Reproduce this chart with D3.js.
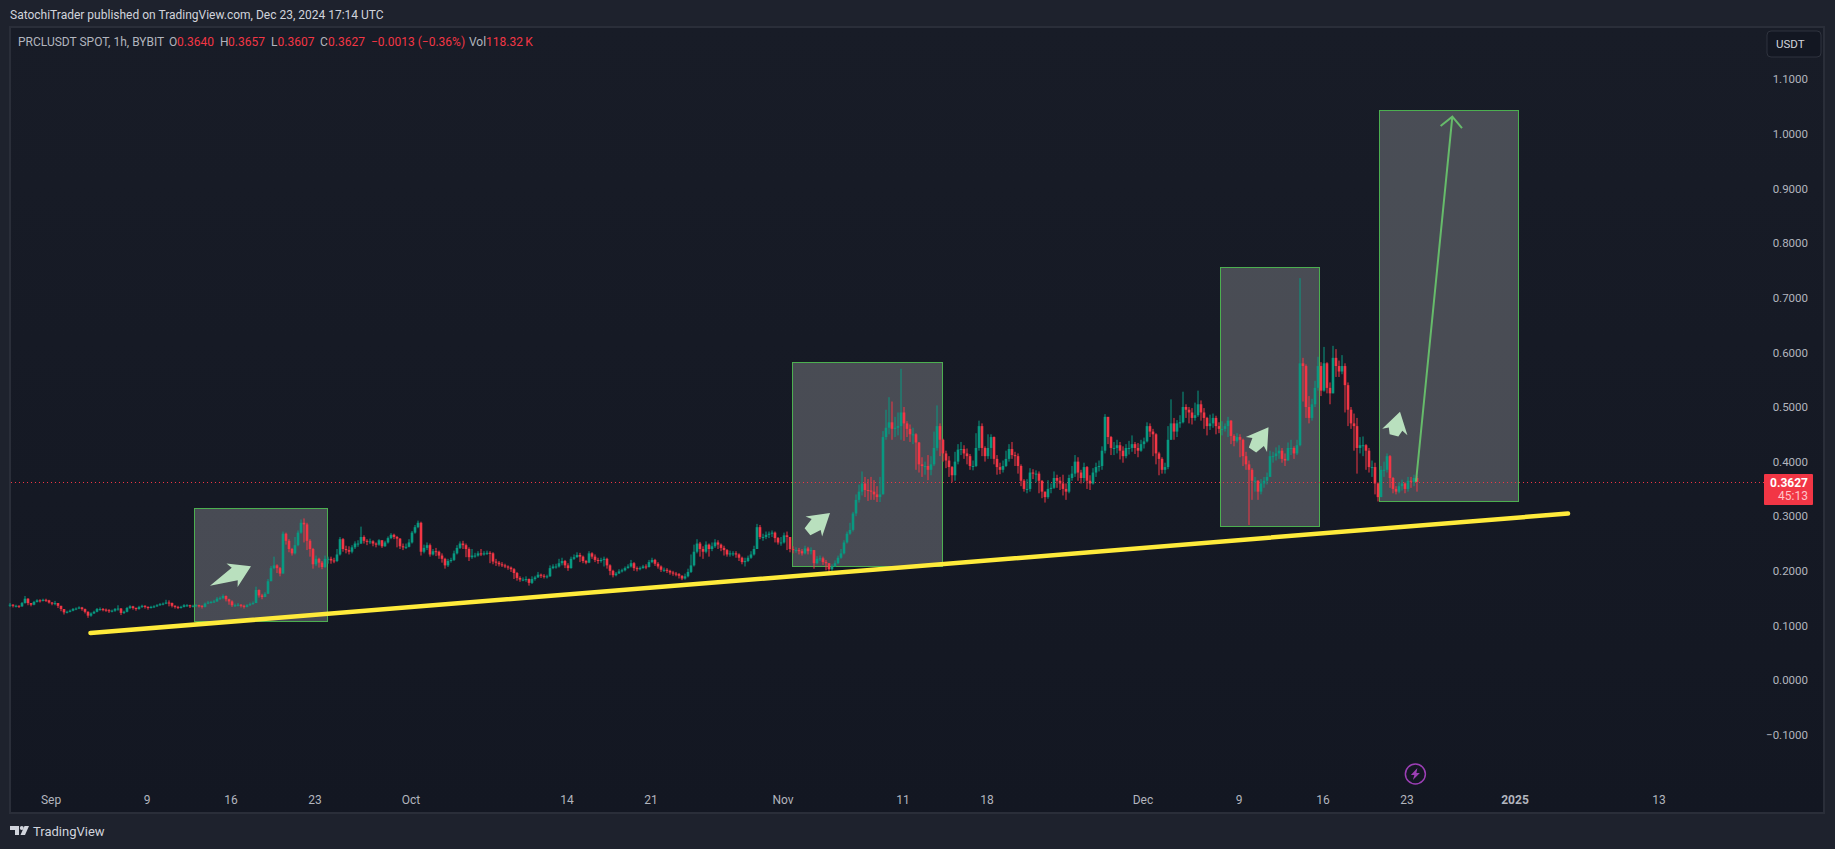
<!DOCTYPE html>
<html>
<head>
<meta charset="utf-8">
<script src="https://cdn.jsdelivr.net/npm/d3@7"></script>
<style>
  html, body { margin: 0; padding: 0; background: #1e222d; overflow: hidden; }
  text { font-family: Roboto, "Noto Sans", sans-serif; }
</style>
</head>
<body>
<div id="chart"></div>
<script>
// 6h bars, first bar 2024-08-28 15:00 UTC
var firstBar = "2024-08-28T15:00:00Z";
var barHours = 6;
var firstOpen = 0.138;

var closes = [
  // late aug - sep
  .138,.136,.136,.135,.141,.149,.141,.138,.143,.146,
  .145,.147,.146,.142,.140,.141,.136,.130,.124,.125,
  .127,.130,.131,.133,.130,.125,.118,.122,.125,.130,
  .130,.129,.128,.126,.127,.130,.131,.123,.125,.132,
  .135,.132,.130,.134,.136,.134,.132,.134,.135,.137,
  .139,.140,.142,.141,.136,.134,.133,.134,.137,.137,
  .135,.136,.137,.136,.134,.140,.142,.143,.144,.149,
  .150,.154,.148,.144,.137,.137,.138,.136,.134,.137,
  .139,.141,.165,.155,.152,.158,.181,.205,.210,.205,
  .195,.268,.255,.240,.232,.247,.270,.288,.285,.255,
  .240,.212,.222,.215,.207,.222,.222,.219,.218,.230,
  .258,.240,.238,.235,
  // oct
  .243,.250,.250,.262,.255,.253,.254,.250,.248,.256,
  .245,.252,.260,.266,.262,.259,.245,.243,.244,.252,
  .270,.280,.288,.235,.242,.247,.230,.236,.235,.228,
  .222,.210,.218,.220,.232,.242,.250,.247,.240,.225,
  .228,.228,.232,.230,.232,.233,.232,.217,.215,.212,
  .210,.208,.206,.203,.196,.187,.184,.184,.185,.178,
  .185,.188,.193,.191,.190,.190,.205,.208,.208,.214,
  .218,.210,.205,.222,.225,.229,.226,.218,.215,.232,
  .226,.220,.218,.220,.222,.210,.200,.192,.195,.199,
  .201,.205,.208,.214,.205,.203,.205,.208,.207,.216,
  .220,.213,.208,.202,.202,.200,.197,.195,.194,.191,
  .186,.190,.198,.210,.235,.250,.240,.235,.248,.240,
  .245,.252,.248,.242,.238,.230,.232,.232,.230,.224,
  .216,.218,.224,.230,.240,.280,.262,.262,.266,.268,
  .270,.260,.252,
  // nov
  .252,.265,.262,.240,.238,.238,.236,.232,.241,.236,
  .238,.214,.222,.223,.216,.214,.203,.208,.214,.224,
  .232,.252,.268,.275,.305,.330,.345,.360,.348,.347,
  .345,.340,.335,.340,.445,.462,.472,.460,.462,.465,
  .490,.470,.460,.450,.450,.435,.395,.392,.392,.385,
  .395,.425,.465,.440,.415,.402,.390,.375,.400,.422,
  .423,.415,.410,.392,.392,.425,.465,.425,.410,.425,
  .445,.405,.390,.385,.392,.405,.423,.412,.410,.392,
  .365,.350,.350,.380,.378,.378,.365,.345,.335,.350,
  .352,.370,.365,.360,.350,.345,.370,.378,.400,.380,
  .370,.390,.365,.360,.380,.390,.392,.420,.482,.445,
  .425,.425,.430,.420,.410,.425,.425,.432,.425,.420,
  .432,.437,.465,.455,.450,.415,.405,.385,.390,.440,
  .470,.455,.470,.472,.500,.495,.490,.480,.485,.505,
  .490,.480,.465,.470,.480,.465,.460,
  // dec
  .460,.465,.475,.447,.438,.445,.440,.410,.395,.385,
  .365,.365,.345,.360,.365,.372,.410,.410,.415,.420,
  .405,.402,.425,.425,.415,.430,.580,.575,.500,.480,
  .505,.535,.575,.530,.580,.535,.525,.590,.575,.565,
  .575,.540,.495,.470,.465,.425,.430,.430,.420,.390,
  .390,.360,.335,.385,.385,.410,.370,.350,.345,.355,
  .360,.350,.365,.363,.370,.3627
];

var highs = [
  .141,.139,.138,.137,.143,.154,.150,.141,.145,.148,
  .148,.149,.149,.147,.143,.145,.141,.136,.130,.127,
  .129,.132,.133,.135,.134,.131,.126,.124,.127,.132,
  .133,.132,.131,.130,.129,.132,.137,.132,.127,.134,
  .137,.136,.133,.136,.138,.137,.135,.136,.137,.139,
  .141,.142,.147,.146,.142,.137,.136,.136,.139,.139,
  .138,.138,.139,.138,.137,.142,.145,.145,.147,.152,
  .153,.157,.155,.149,.146,.140,.141,.139,.138,.139,
  .142,.144,.171,.166,.158,.161,.185,.209,.226,.212,
  .207,.272,.270,.258,.242,.262,.274,.294,.296,.288,
  .258,.242,.228,.224,.218,.228,.226,.226,.224,.240,
  .262,.260,.246,.245,
  .247,.254,.256,.281,.265,.258,.259,.256,.252,.258,
  .256,.255,.263,.269,.268,.264,.260,.250,.250,.258,
  .273,.284,.292,.290,.248,.252,.250,.240,.242,.237,
  .232,.224,.222,.224,.237,.247,.254,.255,.250,.243,
  .240,.233,.236,.240,.236,.237,.236,.234,.222,.218,
  .216,.213,.210,.208,.205,.198,.190,.188,.190,.186,
  .190,.191,.198,.195,.194,.193,.210,.212,.213,.222,
  .224,.220,.214,.226,.230,.234,.233,.228,.220,.236,
  .234,.230,.224,.224,.226,.224,.212,.202,.198,.203,
  .204,.208,.212,.220,.216,.208,.208,.211,.212,.220,
  .224,.222,.216,.210,.206,.205,.202,.200,.198,.196,
  .192,.195,.204,.230,.248,.258,.253,.245,.254,.250,
  .252,.258,.256,.250,.246,.240,.237,.236,.236,.232,
  .226,.224,.228,.236,.246,.286,.284,.268,.272,.272,
  .274,.272,.262,
  .262,.270,.272,.262,.245,.243,.242,.240,.246,.244,
  .243,.238,.227,.228,.226,.220,.214,.212,.219,.228,
  .240,.256,.272,.288,.308,.340,.358,.382,.372,.368,
  .372,.366,.355,.372,.456,.495,.518,.510,.482,.490,
  .570,.500,.474,.468,.462,.452,.436,.408,.400,.412,
  .410,.455,.503,.470,.442,.420,.410,.392,.418,.432,
  .436,.430,.424,.414,.402,.452,.475,.470,.428,.450,
  .450,.446,.412,.398,.402,.420,.432,.436,.418,.415,
  .395,.368,.368,.388,.386,.384,.382,.366,.345,.366,
  .360,.382,.376,.372,.376,.360,.376,.392,.412,.408,
  .385,.398,.392,.375,.388,.398,.402,.428,.487,.480,
  .447,.436,.440,.436,.428,.432,.438,.448,.436,.434,
  .440,.444,.472,.470,.460,.452,.418,.408,.398,.465,
  .514,.480,.476,.485,.528,.505,.500,.498,.508,.530,
  .512,.498,.482,.486,.488,.484,.472,
  .474,.470,.482,.476,.450,.452,.450,.442,.418,.402,
  .388,.372,.366,.368,.372,.380,.420,.418,.426,.430,
  .425,.415,.435,.440,.428,.440,.736,.590,.578,.520,
  .515,.548,.592,.582,.610,.582,.545,.612,.606,.585,
  .595,.580,.545,.500,.488,.480,.445,.446,.432,.425,
  .402,.398,.362,.392,.400,.415,.412,.372,.355,.362,
  .367,.362,.372,.372,.376,.374
];

var lows = [
  .134,.133,.133,.132,.134,.140,.137,.135,.137,.142,
  .142,.144,.143,.140,.137,.137,.132,.126,.120,.122,
  .124,.126,.128,.130,.127,.122,.114,.116,.121,.124,
  .127,.126,.125,.123,.124,.125,.127,.119,.121,.124,
  .130,.129,.127,.129,.132,.131,.129,.131,.132,.134,
  .136,.137,.139,.135,.133,.131,.130,.131,.133,.134,
  .132,.133,.134,.133,.131,.133,.139,.140,.141,.143,
  .147,.148,.144,.138,.134,.134,.135,.133,.131,.133,
  .136,.138,.141,.151,.148,.152,.158,.181,.203,.196,
  .190,.195,.248,.234,.228,.230,.245,.268,.252,.238,
  .226,.204,.209,.206,.203,.205,.213,.213,.214,.216,
  .228,.235,.232,.230,
  .232,.240,.244,.249,.250,.247,.249,.245,.243,.246,
  .242,.244,.250,.258,.258,.243,.240,.238,.240,.243,
  .250,.268,.278,.228,.232,.238,.226,.228,.227,.222,
  .215,.204,.207,.215,.218,.230,.240,.240,.225,.218,
  .222,.224,.226,.227,.228,.229,.214,.212,.209,.208,
  .207,.205,.202,.198,.185,.182,.180,.181,.180,.173,
  .176,.182,.187,.187,.186,.186,.189,.203,.204,.206,
  .210,.205,.200,.204,.220,.224,.216,.214,.212,.214,
  .222,.216,.213,.215,.208,.204,.192,.188,.190,.195,
  .197,.199,.204,.206,.200,.199,.201,.204,.203,.206,
  .214,.209,.204,.198,.198,.196,.193,.191,.190,.186,
  .183,.184,.188,.196,.208,.232,.226,.222,.232,.226,
  .236,.242,.240,.236,.228,.226,.226,.227,.224,.218,
  .212,.208,.216,.222,.228,.240,.258,.255,.258,.260,
  .262,.252,.248,
  .246,.250,.238,.234,.232,.233,.230,.228,.230,.230,
  .230,.204,.212,.218,.211,.201,.197,.200,.207,.212,
  .222,.230,.250,.266,.272,.300,.325,.338,.335,.328,
  .330,.330,.326,.326,.340,.440,.450,.440,.445,.448,
  .440,.438,.445,.436,.432,.385,.380,.372,.376,.366,
  .375,.392,.420,.410,.400,.388,.372,.362,.365,.395,
  .412,.405,.395,.385,.384,.390,.420,.410,.400,.405,
  .405,.395,.376,.377,.380,.390,.400,.405,.392,.378,
  .355,.345,.342,.345,.368,.362,.342,.333,.325,.332,
  .342,.350,.352,.348,.338,.330,.342,.365,.372,.365,
  .360,.362,.350,.348,.358,.372,.382,.385,.415,.432,
  .412,.412,.415,.404,.398,.406,.413,.418,.414,.408,
  .418,.424,.435,.445,.410,.395,.375,.378,.378,.386,
  .440,.440,.445,.462,.470,.480,.470,.468,.475,.482,
  .475,.460,.448,.458,.462,.450,.452,
  .448,.455,.445,.432,.428,.435,.408,.392,.385,.284,
  .330,.345,.330,.340,.352,.358,.372,.398,.402,.405,
  .398,.392,.402,.412,.405,.412,.428,.510,.480,.470,
  .475,.500,.530,.520,.528,.525,.505,.525,.555,.555,
  .560,.490,.465,.460,.420,.378,.415,.410,.385,.380,
  .372,.340,.327,.335,.372,.380,.352,.342,.340,.342,
  .347,.342,.345,.352,.355,.345
];

var priceTicks = [-0.1, 0, 0.1, 0.2, 0.3, 0.4, 0.5, 0.6, 0.7, 0.8, 0.9, 1.0, 1.1];
var timeTickDates = ["2024-09-01", "2024-09-09", "2024-09-16", "2024-09-23", "2024-10-01", "2024-10-14", "2024-10-21", "2024-11-01", "2024-11-11", "2024-11-18", "2024-12-01", "2024-12-09", "2024-12-16", "2024-12-23", "2025-01-01", "2025-01-13"];
var timeTickLabels = ["Sep", "9", "16", "23", "Oct", "14", "21", "Nov", "11", "18", "Dec", "9", "16", "23", "2025", "13"];

// drawings: start date, end date, top price, bottom price
var boxStarts = ["2024-09-13T00:00Z", "2024-11-01T19:00Z", "2024-12-07T12:00Z", "2024-12-20T18:00Z"];
var boxEnds = ["2024-09-24T02:00Z", "2024-11-14T08:00Z", "2024-12-15T18:00Z", "2025-01-01T08:00Z"];
var boxTops = [0.3145, 0.5818, 0.7558, 1.0432];
var boxBottoms = [0.1077, 0.2076, 0.2816, 0.3274];

var trendDates = ["2024-09-04T08:00Z", "2025-01-05T11:00Z"];
var trendPrices = [0.0862, 0.305];

var targetDates = ["2024-12-23T19:00Z", "2024-12-26T19:40Z"];
var targetPrices = [0.3631, 1.0315];

var markerTailDates = ["2024-09-14T07:00Z", "2024-11-03T02:00Z", "2024-12-10T04:00Z", "2024-12-21T23:00Z"];
var markerTailPrices = [0.1728, 0.2717, 0.4213, 0.4482];
var markerTipDates = ["2024-09-17T17:00Z", "2024-11-04T23:00Z", "2024-12-11T12:00Z", "2024-12-22T11:00Z"];
var markerTipPrices = [0.2084, 0.3059, 0.4629, 0.4914];

var lastPrice = 0.3627;
var eventDate = "2024-12-23T17:46Z";

var titleText = "SatochiTrader published on TradingView.com, Dec 23, 2024 17:14 UTC";
var legendParts = ["PRCLUSDT SPOT, 1h, BYBIT", "O", "0.3640", "H", "0.3657", "L", "0.3607", "C", "0.3627", "\u22120.0013 (\u22120.36%)", "Vol", "118.32\u2009K"];
var legendX = [18, 169, 177, 220, 228, 271, 277.5, 320, 328, 371, 469, 486];
var legendRed = [false, false, true, false, true, false, true, false, true, true, false, true];

var upColor = "#089981";
var downColor = "#f23645";

var width = 1835, height = 849;

var svg = d3.select("#chart")
  .append("svg")
    .attr("width", width)
    .attr("height", height)
    .style("display", "block");

var defs = svg.append("defs");
var grad = defs.append("linearGradient")
  .attr("id", "paneBg")
  .attr("x1", 0).attr("y1", 0).attr("x2", 0).attr("y2", 1);
grad.append("stop").attr("offset", "0%").attr("stop-color", "#181c27");
grad.append("stop").attr("offset", "100%").attr("stop-color", "#131722");

// pane
svg.append("rect")
  .attr("x", 10).attr("y", 27)
  .attr("width", 1814).attr("height", 786)
  .attr("fill", "url(#paneBg)")
  .attr("stroke", "#2a2e39")
  .attr("stroke-width", 2);

var x = d3.scaleUtc()
  .domain([new Date("2024-09-01T00:00:00Z"), new Date("2025-01-13T00:00:00Z")])
  .range([50.5, 1658.5]);

var y = d3.scaleLinear()
  .domain([-0.1, 1.1])
  .range([734.7, 79.3]);

var bars = closes.map(function(c, i) {
  return {
    date: new Date(new Date(firstBar).getTime() + i * barHours * 3600000),
    open: i == 0 ? firstOpen : closes[i - 1],
    high: highs[i],
    low: lows[i],
    close: c
  };
});

// boxes go under the candles
svg.append("g").selectAll("rect")
  .data(boxStarts)
  .enter()
  .append("rect")
    .attr("x", function(d) { return Math.floor(x(new Date(d))) + 0.5; })
    .attr("y", function(d, i) { return Math.floor(y(boxTops[i])) + 0.5; })
    .attr("width", function(d, i) { return Math.floor(x(new Date(boxEnds[i]))) - Math.floor(x(new Date(d))); })
    .attr("height", function(d, i) { return Math.floor(y(boxBottoms[i])) - Math.floor(y(boxTops[i])); })
    .attr("fill", "rgba(255,255,255,0.22)")
    .attr("stroke", "#4caf50")
    .attr("stroke-width", 1);

// last price line
svg.append("line")
  .attr("x1", 11).attr("x2", 1764)
  .attr("y1", Math.round(y(lastPrice)) + 0.5)
  .attr("y2", Math.round(y(lastPrice)) + 0.5)
  .attr("stroke", downColor)
  .attr("stroke-width", 1)
  .attr("stroke-dasharray", "1 3");

var candles = svg.append("g");

candles.selectAll("line")
  .data(bars)
  .enter()
  .append("line")
    .attr("x1", function(d) { return x(d.date); })
    .attr("x2", function(d) { return x(d.date); })
    .attr("y1", function(d) { return y(d.high); })
    .attr("y2", function(d) { return y(d.low); })
    .attr("stroke", function(d) { return d.close >= d.open ? upColor : downColor; })
    .attr("stroke-width", 1);

candles.selectAll("rect")
  .data(bars)
  .enter()
  .append("rect")
    .attr("x", function(d) { return x(d.date) - 1.3; })
    .attr("width", 2.6)
    .attr("y", function(d) { return y(Math.max(d.open, d.close)); })
    .attr("height", function(d) { return Math.max(1, Math.abs(y(d.open) - y(d.close))); })
    .attr("fill", function(d) { return d.close >= d.open ? upColor : downColor; });

// yellow trend line
svg.append("line")
  .attr("x1", x(new Date(trendDates[0])))
  .attr("y1", y(trendPrices[0]))
  .attr("x2", x(new Date(trendDates[1])))
  .attr("y2", y(trendPrices[1]))
  .attr("stroke", "#ffeb3b")
  .attr("stroke-width", 4.5)
  .attr("stroke-linecap", "round");

// target arrow with open head
var tx0 = x(new Date(targetDates[0])), ty0 = y(targetPrices[0]);
var tx1 = x(new Date(targetDates[1])), ty1 = y(targetPrices[1]);
var ang = Math.atan2(ty0 - ty1, tx0 - tx1);
var headLen = 15;
svg.append("path")
  .attr("d", "M" + tx0 + "," + ty0 + "L" + tx1 + "," + ty1
    + "M" + (tx1 + headLen * Math.cos(ang - 0.8)) + "," + (ty1 + headLen * Math.sin(ang - 0.8))
    + "L" + tx1 + "," + ty1
    + "L" + (tx1 + headLen * Math.cos(ang + 0.8)) + "," + (ty1 + headLen * Math.sin(ang + 0.8)))
  .attr("fill", "none")
  .attr("stroke", "#66bb6a")
  .attr("stroke-width", 2);

// fat pale arrow markers, the short ones keep a flat tail
function markerPath(ax, ay, bx, by) {
  var dx = bx - ax, dy = by - ay;
  var len = Math.sqrt(dx * dx + dy * dy);
  var ux = dx / len, uy = dy / len;
  var pt = function(along, side) {
    return [bx + ux * along - uy * side, by + uy * along + ux * side];
  };
  var tail = len < 35 ? [pt(-len, 4.5), pt(-len, -4.5)] : [[ax, ay]];
  return d3.line()(tail.slice(0, 1).concat([pt(-18, 7), pt(-21, 13), [bx, by], pt(-21, -13), pt(-18, -7)], tail.slice(1))) + "Z";
}

svg.append("g").selectAll("path")
  .data(markerTailDates)
  .enter()
  .append("path")
    .attr("d", function(d, i) {
      return markerPath(x(new Date(d)), y(markerTailPrices[i]), x(new Date(markerTipDates[i])), y(markerTipPrices[i]));
    })
    .attr("fill", "#b9e0be");

// price axis
var yAxis = svg.append("g")
  .attr("transform", "translate(1808,0)")
  .call(d3.axisLeft(y).tickValues(priceTicks).tickFormat(d3.format(".4f")).tickSize(0).tickPadding(0));
yAxis.select(".domain").remove();
yAxis.selectAll("text")
  .attr("fill", "#b2b5be")
  .style("font-size", "11.5px");

// time axis
var xAxis = svg.append("g")
  .attr("transform", "translate(0,795)")
  .call(d3.axisBottom(x)
    .tickValues(timeTickDates.map(function(d) { return new Date(d + "T00:00:00Z"); }))
    .tickFormat(function(d, i) { return timeTickLabels[i]; })
    .tickSize(0).tickPadding(0));
xAxis.select(".domain").remove();
xAxis.selectAll("text")
  .attr("fill", "#b2b5be")
  .style("font-size", "12px")
  .style("font-weight", function(d, i) { return timeTickLabels[i] == "2025" ? 700 : 400; });

// USDT button
svg.append("rect")
  .attr("x", 1767).attr("y", 31)
  .attr("width", 54).attr("height", 26)
  .attr("rx", 4)
  .attr("fill", "#131722")
  .attr("stroke", "#2f333e");
svg.append("text")
  .attr("x", 1776).attr("y", 48)
  .attr("fill", "#d1d4dc")
  .style("font-size", "11.5px")
  .text("USDT");

// last price tag
svg.append("rect")
  .attr("x", 1764).attr("y", 474)
  .attr("width", 49).attr("height", 31)
  .attr("rx", 1)
  .attr("fill", downColor);
svg.append("text")
  .attr("x", 1808).attr("y", 487)
  .attr("text-anchor", "end")
  .attr("fill", "#ffffff")
  .style("font-size", "12px")
  .style("font-weight", 700)
  .text(d3.format(".4f")(lastPrice));
svg.append("text")
  .attr("x", 1808).attr("y", 500)
  .attr("text-anchor", "end")
  .attr("fill", "#ffc4ca")
  .style("font-size", "12px")
  .text("45:13");

// header
svg.append("text")
  .attr("x", 10).attr("y", 19)
  .attr("fill", "#d1d4dc")
  .style("font-size", "12px")
  .text(titleText);

svg.append("g").selectAll("text")
  .data(legendParts)
  .enter()
  .append("text")
    .attr("x", function(d, i) { return legendX[i]; })
    .attr("y", 46)
    .attr("fill", function(d, i) { return legendRed[i] ? downColor : "#b2b5be"; })
    .style("font-size", "12px")
    .text(function(d) { return d; });

// lightning event icon
var ev = svg.append("g")
  .attr("transform", "translate(" + x(new Date(eventDate)) + ",774)");
ev.append("circle")
  .attr("r", 10)
  .attr("fill", "none")
  .attr("stroke", "#9c3fb5")
  .attr("stroke-width", 1.5);
ev.append("path")
  .attr("d", "M2,-6L-4.5,1L-1,1L-2.5,6L4.5,-1L1,-1Z")
  .attr("fill", "#9c3fb5");

// footer logo
svg.append("path")
  .attr("d", "M10,826H19V835H15V830H10Z M24.5,826H29L25,835H20.5Z")
  .attr("fill", "#d1d4dc");
svg.append("circle")
  .attr("cx", 21.8).attr("cy", 828)
  .attr("r", 2)
  .attr("fill", "#d1d4dc");
svg.append("text")
  .attr("x", 33).attr("y", 836)
  .attr("fill", "#d1d4dc")
  .style("font-size", "13px")
  .text("TradingView");
</script>
</body>
</html>
